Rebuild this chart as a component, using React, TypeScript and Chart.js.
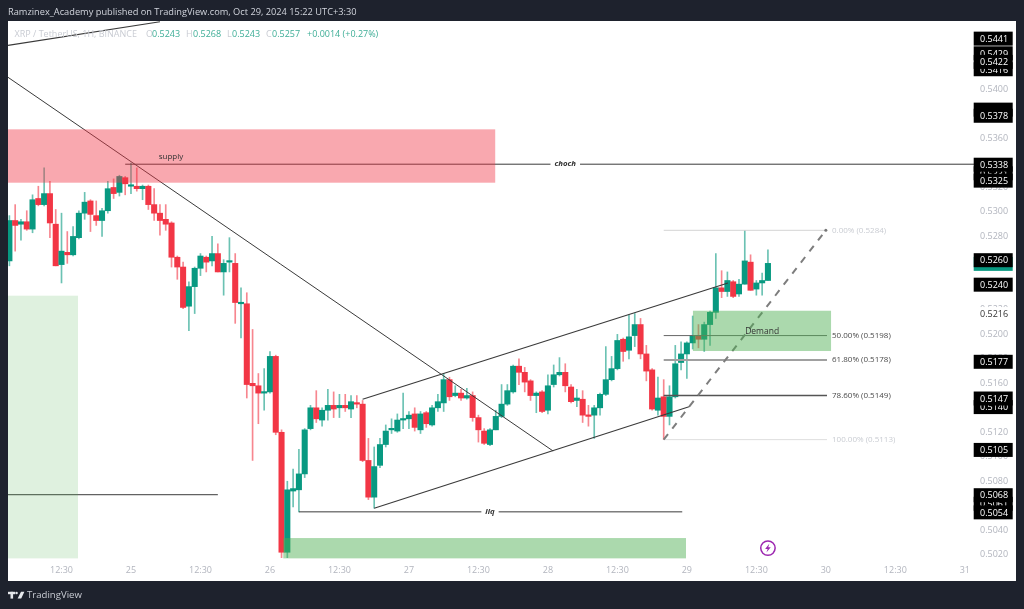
import React, { useEffect, useRef } from "react";
import { Chart, registerables } from "chart.js";

Chart.register(...registerables);

// ---------- data ----------
const firstHour = -21; // hours relative to Oct 25 00:30
const opens = [0.5259,0.5292,0.5289,0.5291,0.5285,0.5310,0.5305,0.5314,0.5289,0.5256,0.5266,0.5264,0.5278,0.5298,0.5308,0.5296,0.5292,0.5300,0.5319,0.5315,0.5327,0.5320,0.5320,0.5318,0.5320,0.5305,0.5298,0.5293,0.5290,0.5262,0.5254,0.5222,0.5238,0.5253,0.5262,0.5259,0.5265,0.5250,0.5258,0.5257,0.5224,0.5224,0.5159,0.5157,0.5151,0.5152,0.5181,0.5119,0.5021,0.5071,0.5072,0.5085,0.5122,0.5139,0.5129,0.5137,0.5141,0.5139,0.5141,0.5138,0.5143,0.5142,0.5096,0.5066,0.5092,0.5109,0.5121,0.5120,0.5129,0.5130,0.5134,0.5121,0.5135,0.5125,0.5139,0.5143,0.5162,0.5149,0.5151,0.5147,0.5149,0.5131,0.5120,0.5109,0.5121,0.5132,0.5142,0.5152,0.5173,0.5168,0.5161,0.5149,0.5152,0.5137,0.5158,0.5166,0.5168,0.5156,0.5145,0.5146,0.5133,0.5133,0.5139,0.5150,0.5162,0.5171,0.5195,0.5186,0.5198,0.5207,0.5183,0.5170,0.5137,0.5148,0.5132,0.5148,0.5176,0.5183,0.5192,0.5198,0.5195,0.5207,0.5217,0.5237,0.5234,0.5242,0.5232,0.5240,0.5258,0.5236,0.5241,0.5243];
const highs = [0.5296,0.5305,0.5293,0.5300,0.5313,0.5320,0.5335,0.5324,0.5301,0.5298,0.5283,0.5287,0.5300,0.5315,0.5309,0.5308,0.5302,0.5324,0.5326,0.5329,0.5328,0.5339,0.5335,0.5321,0.5321,0.5318,0.5305,0.5305,0.5291,0.5263,0.5258,0.5242,0.5254,0.5265,0.5263,0.5279,0.5273,0.5260,0.5278,0.5265,0.5237,0.5233,0.5203,0.5167,0.5171,0.5185,0.5182,0.5121,0.5079,0.5089,0.5105,0.5122,0.5141,0.5153,0.5139,0.5154,0.5152,0.5150,0.5150,0.5149,0.5149,0.5145,0.5114,0.5107,0.5114,0.5125,0.5130,0.5134,0.5151,0.5136,0.5139,0.5136,0.5136,0.5141,0.5150,0.5167,0.5164,0.5157,0.5154,0.5155,0.5152,0.5133,0.5122,0.5122,0.5137,0.5158,0.5158,0.5174,0.5179,0.5172,0.5162,0.5152,0.5153,0.5166,0.5174,0.5180,0.5175,0.5158,0.5154,0.5153,0.5141,0.5141,0.5151,0.5189,0.5181,0.5199,0.5196,0.5215,0.5216,0.5212,0.5190,0.5171,0.5164,0.5162,0.5157,0.5190,0.5193,0.5193,0.5214,0.5207,0.5209,0.5218,0.5265,0.5251,0.5250,0.5243,0.5244,0.5284,0.5264,0.5243,0.5249,0.5268];
const lows = [0.5255,0.5267,0.5276,0.5284,0.5282,0.5304,0.5304,0.5278,0.5255,0.5241,0.5257,0.5263,0.5277,0.5293,0.5283,0.5288,0.5279,0.5298,0.5310,0.5312,0.5313,0.5314,0.5316,0.5309,0.5301,0.5292,0.5280,0.5284,0.5254,0.5244,0.5220,0.5202,0.5216,0.5247,0.5250,0.5255,0.5250,0.5231,0.5250,0.5208,0.5196,0.5147,0.5096,0.5126,0.5137,0.5151,0.5117,0.5016,0.5016,0.5058,0.5054,0.5082,0.5121,0.5127,0.5124,0.5129,0.5131,0.5131,0.5136,0.5131,0.5139,0.5095,0.5064,0.5057,0.5090,0.5107,0.5118,0.5119,0.5122,0.5122,0.5120,0.5118,0.5123,0.5124,0.5136,0.5136,0.5145,0.5148,0.5145,0.5146,0.5128,0.5111,0.5109,0.5108,0.5121,0.5131,0.5141,0.5151,0.5158,0.5152,0.5145,0.5135,0.5135,0.5134,0.5156,0.5165,0.5152,0.5143,0.5140,0.5127,0.5124,0.5114,0.5133,0.5149,0.5161,0.5170,0.5177,0.5179,0.5189,0.5179,0.5161,0.5137,0.5133,0.5113,0.5125,0.5147,0.5170,0.5163,0.5187,0.5188,0.5185,0.5190,0.5212,0.5229,0.5230,0.5229,0.5230,0.5240,0.5235,0.5231,0.5231,0.5243];
const closes = [0.5292,0.5288,0.5291,0.5285,0.5309,0.5305,0.5314,0.5290,0.5255,0.5267,0.5264,0.5279,0.5298,0.5307,0.5297,0.5292,0.5300,0.5318,0.5314,0.5328,0.5322,0.5321,0.5318,0.5320,0.5305,0.5298,0.5292,0.5289,0.5262,0.5254,0.5221,0.5238,0.5253,0.5263,0.5258,0.5265,0.5250,0.5257,0.5259,0.5225,0.5225,0.5158,0.5157,0.5151,0.5152,0.5181,0.5119,0.5021,0.5072,0.5073,0.5085,0.5121,0.5139,0.5130,0.5137,0.5141,0.5138,0.5141,0.5139,0.5144,0.5142,0.5096,0.5066,0.5091,0.5109,0.5120,0.5122,0.5129,0.5130,0.5133,0.5123,0.5134,0.5126,0.5139,0.5144,0.5162,0.5148,0.5151,0.5147,0.5149,0.5131,0.5121,0.5110,0.5121,0.5132,0.5142,0.5153,0.5173,0.5168,0.5160,0.5149,0.5151,0.5136,0.5157,0.5166,0.5168,0.5157,0.5144,0.5147,0.5133,0.5132,0.5139,0.5150,0.5162,0.5171,0.5194,0.5185,0.5197,0.5207,0.5183,0.5169,0.5138,0.5147,0.5132,0.5148,0.5175,0.5183,0.5192,0.5198,0.5195,0.5207,0.5217,0.5237,0.5234,0.5243,0.5230,0.5240,0.5259,0.5235,0.5241,0.5243,0.5257];

const xTickHours = [-12,0,12,24,36,48,60,72,84,96,108,120,132,144];
const xTickLabels = ["12:30","25","12:30","26","12:30","27","12:30","28","12:30","29","12:30","30","12:30","31"];
const yTickValues = [0.5020,0.5040,0.5060,0.5080,0.5100,0.5120,0.5140,0.5160,0.5180,0.5200,0.5220,0.5240,0.5260,0.5280,0.5300,0.5320,0.5340,0.5360,0.5380,0.5400,0.5420,0.5440];

// [hourStart, priceStart, hourEnd, priceEnd]
const upperLeftLine = [-21.24, 0.54351, 5, 0.54544];
const bigDownLine = [-21.24, 0.5409, 72.9, 0.51037];
const chochLine = [-1, 0.5338, 145.76, 0.5338];
const leftLine = [-21.24, 0.5068, 15, 0.5068];
const liqLine = [29, 0.5054, 95.2, 0.5054];
const channelTop = [40, 0.5146, 103.1, 0.5241];
const channelBottom = [42, 0.5057, 96.5, 0.5140];
const fibDiagonal = [92, 0.5113, 120, 0.5284];

const fibStartHour = 92;
const fibEndHour = 120.2;
const fibPrices = [0.5284, 0.5198, 0.5178, 0.5149, 0.5113];
const fibLabels = ["0.00% (0.5284)", "50.00% (0.5198)", "61.80% (0.5178)", "78.60% (0.5149)", "100.00% (0.5113)"];

// [hourStart, hourEnd, priceTop, priceBottom]
const supplyZone = [-21.24, 62.9, 0.53665, 0.53229];
const demandZone = [97.05, 120.9, 0.52183, 0.51854];
const bottomZone = [26.3, 95.85, 0.50326, 0.5016];
const leftZone = [-21.24, -9.15, 0.52306, 0.5016];

const badgeLabels = ["0.5429","0.5416","0.5441","0.5422","","0.5378","0.5331","0.5338","0.5325","0.5257","0.5260","0.5240","0.5216","0.5177","0.5140","0.5147","0.5105","0.5061","0.5068","0.5054"];
const badgePrices = [0.5429,0.5416,0.5441,0.5422,0.5383,0.5378,0.5331,0.5338,0.5325,0.5257,0.5260,0.5240,0.5216,0.5177,0.5140,0.5147,0.5105,0.5061,0.5068,0.5054];

const headerText = "Ramzinex_Academy published on TradingView.com, Oct 29, 2024 15:22 UTC+3:30";
const symbolText = "XRP / TetherUS, 1H, BINANCE";
const ohlcLetters = ["O", "H", "L", "C"];
const ohlcValues = ["0.5243", "0.5268", "0.5243", "0.5257"];
const changeText = "+0.0014 (+0.27%)";

// ---------- styles ----------
const GREEN = "#089981";
const RED = "#f23645";
const FONT = '"Open Sans", sans-serif';
const DARK = "#1e222d";

const hours = opens.map((_, i) => firstHour + i);
const isUp = (i: number) => closes[i] >= opens[i];

function seg(v: number[], color: string, width: number, order: number, dash: number[] = []) {
  return {
    type: "line" as const,
    data: [{ x: v[0], y: v[1] }, { x: v[2], y: v[3] }],
    borderColor: color,
    borderWidth: width,
    borderDash: dash,
    pointRadius: 0,
    order,
    tension: 0,
  };
}

const fibStyles: [string, number][] = [["#d4d4d4", 1], ["#666666", 1], ["#a0a0a0", 2], ["#555555", 1.5], ["#dedede", 1]];
const fibTextColors = ["#c9ccd2", "#4a4a4a", "#4a4a4a", "#4a4a4a", "#c9ccd2"];

const overlay = {
  id: "overlay",
  beforeDraw(chart: any) {
    const { ctx, width, height } = chart;
    ctx.save();
    ctx.fillStyle = DARK;
    ctx.fillRect(0, 0, width, height);
    ctx.fillStyle = "#ffffff";
    ctx.fillRect(8, 21, 1008, 560);
    ctx.restore();
    // axis labels sit 1px lower, closed again before the datasets are drawn
    ctx.save();
    ctx.translate(0, 1);
  },
  beforeDatasetsDraw(chart: any) {
    chart.ctx.restore();
  },
  afterDatasetsDraw(chart: any) {
    const { ctx, scales } = chart;
    const X = (h: number) => scales.x.getPixelForValue(h);
    const Y = (p: number) => scales.y.getPixelForValue(p);
    ctx.save();
    const zone = (z: number[], color: string) => {
      ctx.fillStyle = color;
      ctx.fillRect(X(z[0]), Y(z[2]), X(z[1]) - X(z[0]), Y(z[3]) - Y(z[2]));
    };
    zone(leftZone, "rgba(76,175,80,0.18)");
    zone(bottomZone, "rgba(76,175,80,0.47)");
    zone(demandZone, "rgba(76,175,80,0.47)");
    zone(supplyZone, "rgba(242,54,69,0.43)");

    // dashed fib line end dot
    ctx.fillStyle = "#777777";
    ctx.beginPath();
    ctx.arc(X(fibDiagonal[2]), Y(fibDiagonal[3]), 1.5, 0, Math.PI * 2);
    ctx.fill();

    // drawing labels
    ctx.textBaseline = "middle";
    ctx.textAlign = "center";
    const label = (t: string, h: number, p: number, font: string, color: string, backed: boolean) => {
      ctx.font = font;
      if (backed) {
        const w = ctx.measureText(t).width + 8;
        ctx.fillStyle = "#ffffff";
        ctx.fillRect(X(h) - w / 2, Y(p) - 5, w, 10);
      }
      ctx.fillStyle = color;
      ctx.fillText(t, X(h), Y(p));
    };
    label("supply", 6.9, 0.5344, `8px ${FONT}`, "#333333", false);
    label("Demand", 109, 0.5201, `8.5px ${FONT}`, "#333333", false);
    label("choch", 75, 0.5338, `italic bold 7.8px ${FONT}`, "#333333", true);
    label("liq", 62, 0.5054, `italic bold 7.8px ${FONT}`, "#333333", true);

    ctx.textAlign = "left";
    ctx.font = `8px ${FONT}`;
    fibLabels.forEach((t, i) => {
      ctx.fillStyle = fibTextColors[i];
      ctx.fillText(t, X(fibEndHour) + 5, Y(fibPrices[i]));
    });

    // lightning icon
    const cx = X(110), cy = Y(0.50244);
    ctx.strokeStyle = "#9c27b0";
    ctx.lineWidth = 1.5;
    ctx.beginPath();
    ctx.arc(cx, cy, 7.2, 0, Math.PI * 2);
    ctx.stroke();
    ctx.fillStyle = "#9c27b0";
    ctx.beginPath();
    ctx.moveTo(cx + 1.5, cy - 4.5);
    ctx.lineTo(cx - 2.8, cy + 0.8);
    ctx.lineTo(cx - 0.3, cy + 0.8);
    ctx.lineTo(cx - 1.5, cy + 4.5);
    ctx.lineTo(cx + 2.8, cy - 0.8);
    ctx.lineTo(cx + 0.3, cy - 0.8);
    ctx.closePath();
    ctx.fill();
    ctx.restore();
  },
  afterDraw(chart: any) {
    const { ctx, scales } = chart;
    const Y = (p: number) => scales.y.getPixelForValue(p);
    ctx.save();
    ctx.textBaseline = "middle";
    ctx.textAlign = "left";

    // price badges
    ctx.font = `9px ${FONT}`;
    badgeLabels.forEach((t, i) => {
      const y = Y(badgePrices[i]);
      ctx.fillStyle = t === "0.5216" ? "#ffffff" : t === "0.5257" ? GREEN : "#000000";
      ctx.fillRect(973.7, y - 6.5, 39, 14);
      ctx.fillStyle = t === "0.5216" ? "#333333" : "#ffffff";
      ctx.fillText(t, 980, y + 1.2);
    });

    // header
    ctx.font = `9.25px ${FONT}`;
    ctx.fillStyle = "#d1d4dc";
    ctx.fillText(headerText, 8, 12);

    // legend row
    ctx.font = `9px ${FONT}`;
    ctx.fillStyle = "#c9ccd3";
    ctx.fillText(symbolText, 14.5, 34);
    const letterX = [146, 186, 227, 266];
    const valueX = [152, 193, 232, 272];
    ohlcLetters.forEach((l, i) => {
      ctx.fillStyle = "#c9ccd3";
      ctx.fillText(l, letterX[i], 34);
      ctx.fillStyle = "#3fae97";
      ctx.fillText(ohlcValues[i], valueX[i], 34);
    });
    ctx.fillText(changeText, 307, 34);

    // TradingView mark
    ctx.fillStyle = "#e6e8ec";
    ctx.fillRect(8, 591.8, 7.2, 2.4);
    ctx.fillRect(10.5, 591.8, 2.6, 6.8);
    ctx.beginPath();
    ctx.arc(16.6, 593, 1.2, 0, Math.PI * 2);
    ctx.fill();
    ctx.beginPath();
    ctx.moveTo(21, 591.8);
    ctx.lineTo(24.4, 591.8);
    ctx.lineTo(21.2, 598.6);
    ctx.lineTo(17.6, 598.6);
    ctx.closePath();
    ctx.fill();
    ctx.font = `9.6px ${FONT}`;
    ctx.fillStyle = "#c8cbd3";
    ctx.fillText("TradingView", 27, 595);
    ctx.restore();
  },
};

export default function App() {
  const ref = useRef<HTMLCanvasElement>(null);
  useEffect(() => {
    const chart = new Chart(ref.current as HTMLCanvasElement, {
      type: "bar",
      plugins: [overlay],
      data: {
        datasets: [
          seg(fibDiagonal, "#7d7d7d", 2, 0, [7, 7]),
          seg(upperLeftLine, "#3a3a3a", 1.1, 1),
          seg(bigDownLine, "#3a3a3a", 1, 1),
          seg(chochLine, "#3a3a3a", 1, 1),
          seg(leftLine, "#3a3a3a", 1, 1),
          seg(liqLine, "#3a3a3a", 1, 1),
          seg(channelTop, "#3a3a3a", 1.1, 1),
          seg(channelBottom, "#3a3a3a", 1.1, 1),
          ...fibPrices.map((p, i) =>
            seg([fibStartHour, p, fibEndHour, p], fibStyles[i][0], fibStyles[i][1], 1)
          ),
          {
            type: "bar" as const,
            data: hours.map((h, i) => ({ x: h, y: [Math.min(opens[i], closes[i]), Math.max(opens[i], closes[i])] })),
            backgroundColor: hours.map((_, i) => (isUp(i) ? GREEN : RED)),
            barThickness: 5.4,
            minBarLength: 1.5,
            grouped: false,
            order: 2,
          },
          {
            type: "bar" as const,
            data: hours.map((h, i) => ({ x: h, y: [lows[i], highs[i]] })),
            backgroundColor: hours.map((_, i) => (isUp(i) ? "rgba(8,153,129,0.6)" : "rgba(242,54,69,0.6)")),
            barThickness: 1,
            grouped: false,
            order: 3,
          },
        ] as any,
      },
      options: {
        responsive: false,
        animation: false,
        events: [],
        layout: { padding: { left: 8, right: 8, top: 21, bottom: 28 } },
        plugins: { legend: { display: false }, tooltip: { enabled: false }, title: { display: false } },
        scales: {
          x: {
            type: "linear",
            min: -21.24,
            max: 145.76,
            offset: false,
            grid: { display: false, drawTicks: false },
            border: { display: false },
            afterFit(s: any) { s.height = 23; },
            afterBuildTicks(s: any) { s.ticks = xTickHours.map((value) => ({ value })); },
            ticks: {
              autoSkip: false,
              maxRotation: 0,
              padding: 6,
              color: "#b2b5be",
              font: { family: FONT, size: 9 },
              callback: (v: any) => xTickLabels[xTickHours.indexOf(Number(v))],
            },
          },
          y: {
            type: "linear",
            position: "right",
            min: 0.50163,
            max: 0.5455,
            grid: { display: false, drawTicks: false },
            border: { display: false },
            afterFit(s: any) { s.width = 41; },
            afterBuildTicks(s: any) { s.ticks = yTickValues.map((value) => ({ value })); },
            ticks: {
              autoSkip: false,
              padding: 5,
              color: "#b2b5be",
              font: { family: FONT, size: 9 },
              callback: (v: any) => Number(v).toFixed(4),
            },
          },
        },
      } as any,
    });
    return () => chart.destroy();
  }, []);
  return (
    <canvas
      ref={ref}
      width={1024}
      height={609}
      style={{ position: "fixed", left: 0, top: 0, display: "block", width: 1024, height: 609 }}
    />
  );
}
